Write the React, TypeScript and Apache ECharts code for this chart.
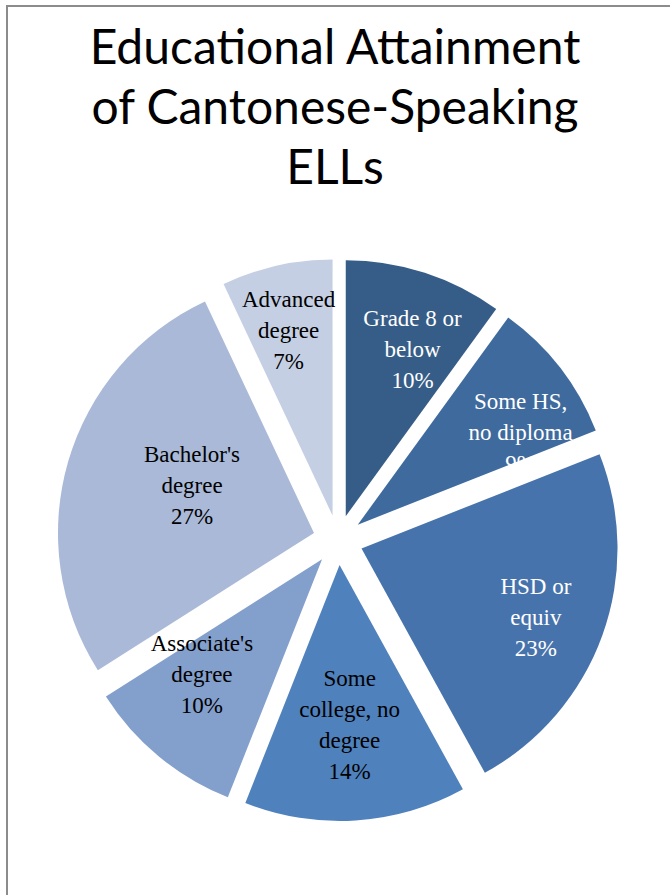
import React, { useEffect, useRef } from "react";
import * as echarts from "echarts";

const titleText = "Educational Attainment\nof Cantonese-Speaking\nELLs";
const categories = [
  "Grade 8 or\nbelow",
  "Some HS,\nno diploma",
  "HSD or\nequiv",
  "Some\ncollege, no\ndegree",
  "Associate's\ndegree",
  "Bachelor's\ndegree",
  "Advanced\ndegree",
];
const values = [10, 9, 23, 14, 10, 27, 7];
const colors = ["#365D88", "#3F6A9D", "#4773AC", "#4F81BD", "#839FCC", "#A9B9D7", "#C5CFE3"];
const labelColors = ["#ffffff", "#ffffff", "#ffffff", "#000000", "#000000", "#000000", "#000000"];
// label placement: distance from the slice tip (fraction of radius) and bearing (deg, clockwise from top)
const labelRadiusFrac = [0.69, 0.72, 0.72, 0.615, 0.64, 0.5, 0.73];
const labelBearing = [21.9, 60.5, 111.5, 176.4, 226.2, 291.5, 346.6];

const RADIUS = 256;
const OFFSET = 25;
const SERIF = "'Liberation Serif', 'Times New Roman', serif";

export default function App() {
  const ref = useRef<HTMLDivElement>(null);
  useEffect(() => {
    if (!ref.current) return;
    const chart = echarts.init(ref.current, null, { renderer: "svg" });
    const total = values.reduce((a, b) => a + b, 0);
    let cum = 0;
    const shifts = values.map((v, i) => {
      const mid = ((cum + v / 2) / total) * Math.PI * 2;
      cum += v;
      const b = (labelBearing[i] * Math.PI) / 180;
      const dist = labelRadiusFrac[i] * RADIUS;
      const half = 0.5 * RADIUS;
      return [
        dist * Math.sin(b) - half * Math.sin(mid),
        -dist * Math.cos(b) + half * Math.cos(mid),
      ];
    });
    const data = values.map((v, i) => ({
      name: categories[i],
      value: v,
      selected: true,
      itemStyle: { color: colors[i] },
      label: { color: labelColors[i], fontFamily: SERIF },
    }));
    chart.setOption({
      animation: false,
      backgroundColor: "#ffffff",
      graphic: [
        {
          type: "rect",
          shape: { x: 7, y: 6, width: 900, height: 1200 },
          style: { fill: "none", stroke: "#8c8c8c", lineWidth: 2 },
          silent: true,
        },
        {
          type: "text",
          x: 335,
          y: 15,
          style: {
            text: titleText,
            textAlign: "center",
            textVerticalAlign: "top",
            fontFamily: "Lato",
            fontWeight: "normal",
            fontSize: 48,
            lineHeight: 60,
            fill: "#000000",
          },
          silent: true,
        },
      ],
      series: [
        {
          type: "pie",
          center: [338, 540],
          radius: [0, RADIUS],
          startAngle: 90,
          clockwise: true,
          avoidLabelOverlap: false,
          selectedMode: "multiple",
          selectedOffset: OFFSET,
          percentPrecision: 0,
          emphasis: { disabled: true },
          labelLine: { show: false },
          label: {
            show: true,
            position: "inside",
            formatter: "{b}\n{d}%",
            fontFamily: SERIF,
            fontSize: 23,
            lineHeight: 31,
            align: "center",
          },
          labelLayout: (params: any) => {
            const s = shifts[params.dataIndex] || [0, 0];
            return { dx: s[0], dy: s[1], hideOverlap: false };
          },
          itemStyle: { borderWidth: 0 },
          data,
        },
      ],
    });
    return () => chart.dispose();
  }, []);
  return (
    <div
      ref={ref}
      style={{ position: "fixed", left: 0, top: 0, width: 670, height: 895 }}
    />
  );
}
